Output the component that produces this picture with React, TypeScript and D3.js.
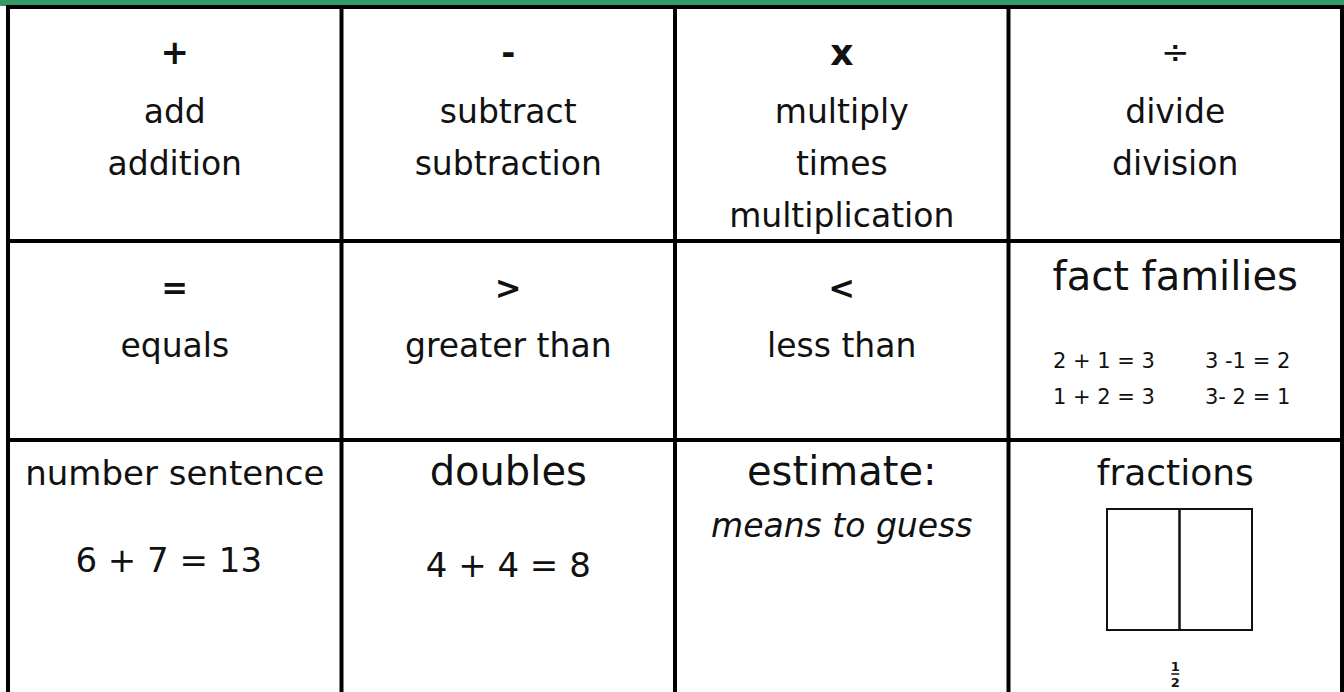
import { useEffect, useRef } from "react";
import * as d3 from "d3";

// cell contents, left to right
const topSymbols = ["+", "-", "x", "÷"];
const topWords = [
  ["add", "addition"],
  ["subtract", "subtraction"],
  ["multiply", "times", "multiplication"],
  ["divide", "division"],
];
const midSymbols = ["=", ">", "<"];
const midWords = ["equals", "greater than", "less than"];
const factTitle = "fact families";
const factLeft = ["2 + 1 = 3", "1 + 2 = 3"];
const factRight = ["3 -1 = 2", "3- 2 = 1"];
const bottomTitles = ["number sentence", "doubles", "estimate:", "fractions"];
const bottomExamples = ["6 + 7 = 13", "4 + 4 = 8"];
const estimateNote = "means to guess";
const fractionParts = [1, 1]; // two halves

// grid line positions
const rowEdges = [7, 241, 440, 700];

const W = 1344, H = 692;
const FONT = "'Comic Sans MS', 'DejaVu Sans', sans-serif";

export default function App() {
  const ref = useRef<SVGSVGElement>(null);

  useEffect(() => {
    const svg = d3.select(ref.current);
    svg.selectAll("*").remove();

    const x = d3.scaleLinear().domain([0, 4]).range([8, 1342]);
    const colMid = (i: number) => (x(i) + x(i + 1)) / 2;

    svg.append("rect").attr("width", W).attr("height", H).attr("fill", "#fff");
    svg.append("rect").attr("x", 0).attr("y", 0).attr("width", W).attr("height", 6).attr("fill", "#339966");

    const g = svg.append("g").attr("font-family", FONT).attr("fill", "#111").attr("text-anchor", "middle");

    // row 1
    g.selectAll(".sym1").data(topSymbols).join("text")
      .attr("x", (d, i) => colMid(i)).attr("y", 52)
      .attr("dominant-baseline", "central")
      .attr("font-size", (d) => (d === "x" ? 36 : 34))
      .attr("font-weight", (d) => (d === "÷" ? "normal" : "bold"))
      .text((d) => d);
    topWords.forEach((lines, i) => {
      g.selectAll(null).data(lines).join("text")
        .attr("x", colMid(i)).attr("y", (d, j) => 123 + j * 52)
        .attr("font-size", 33).text((d) => d);
    });

    // row 2
    g.selectAll(".sym2").data(midSymbols).join("text")
      .attr("x", (d, i) => colMid(i)).attr("y", 288)
      .attr("dominant-baseline", "central")
      .attr("font-size", 32).attr("font-weight", "bold")
      .text((d) => d);
    g.selectAll(".w2").data(midWords).join("text")
      .attr("x", (d, i) => colMid(i)).attr("y", 357)
      .attr("font-size", 33).text((d) => d);
    g.append("text").attr("x", colMid(3)).attr("y", 290).attr("font-size", 40).text(factTitle);
    g.selectAll(".fl").data(factLeft).join("text")
      .attr("text-anchor", "start").attr("x", 1053).attr("y", (d, i) => 368 + i * 36)
      .attr("font-size", 21).text((d) => d);
    g.selectAll(".fr").data(factRight).join("text")
      .attr("text-anchor", "start").attr("x", 1205).attr("y", (d, i) => 368 + i * 36)
      .attr("font-size", 21).text((d) => d);

    // row 3
    g.selectAll(".t3").data(bottomTitles).join("text")
      .attr("x", (d, i) => colMid(i)).attr("y", 485)
      .attr("font-size", (d, i) => (i === 0 ? 34 : i === 3 ? 36 : 40))
      .text((d) => d);
    g.selectAll(".e3").data(bottomExamples).join("text")
      .attr("x", (d, i) => colMid(i) - (i === 0 ? 6 : 0)).attr("y", (d, i) => 572 + i * 5)
      .attr("font-size", (d, i) => (i === 0 ? 34 : 34))
      .text((d) => d);
    g.append("text").attr("x", colMid(2)).attr("y", 537)
      .attr("font-size", 33).attr("font-style", "italic").text(estimateNote);

    // fraction box
    const fx = d3.scaleLinear().domain([0, d3.sum(fractionParts)]).range([1107, 1252]);
    let acc = 0;
    fractionParts.forEach((p) => {
      svg.append("rect").attr("x", fx(acc)).attr("y", 509)
        .attr("width", fx(acc + p) - fx(acc)).attr("height", 121)
        .attr("fill", "none").attr("stroke", "#111").attr("stroke-width", 2);
      acc += p;
    });
    const fg = svg.append("g").attr("font-family", "'DejaVu Sans', sans-serif")
      .attr("font-weight", "bold").attr("text-anchor", "middle").attr("font-size", 13).attr("fill", "#111");
    fg.append("text").attr("x", colMid(3)).attr("y", 671).text("1");
    fg.append("line").attr("x1", colMid(3) - 4).attr("x2", colMid(3) + 4)
      .attr("y1", 674).attr("y2", 674).attr("stroke", "#111").attr("stroke-width", 1.5);
    fg.append("text").attr("x", colMid(3)).attr("y", 687).text("2");

    // grid lines
    const lines = svg.append("g").attr("stroke", "#000").attr("stroke-width", 4);
    lines.selectAll(".h").data(rowEdges.slice(0, 3)).join("line")
      .attr("x1", 6).attr("x2", W).attr("y1", (d) => d).attr("y2", (d) => d);
    lines.selectAll(".v").data(d3.range(5)).join("line")
      .attr("x1", (d) => x(d)).attr("x2", (d) => x(d))
      .attr("y1", 5).attr("y2", H);
  }, []);

  return (
    <div style={{ position: "absolute", left: 0, top: 0 }}>
      <svg ref={ref} width={W} height={H} style={{ display: "block" }}></svg>
    </div>
  );
}
